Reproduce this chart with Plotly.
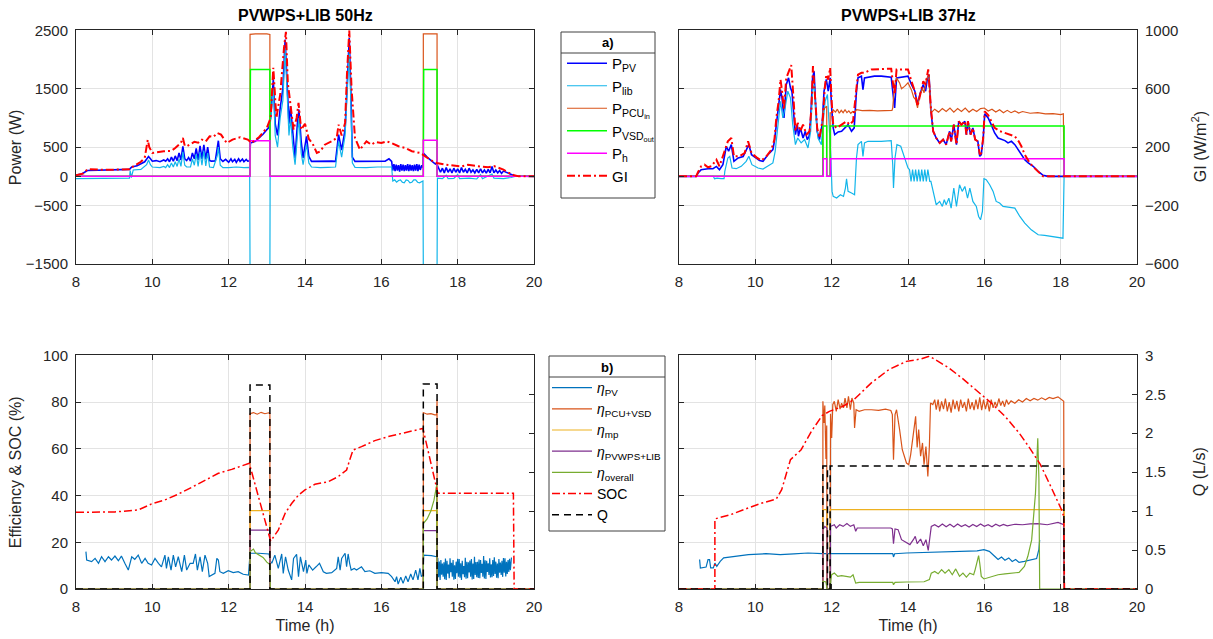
import plotly.graph_objects as go

# ================= DATA =================
# ---- Top-left: PVWPS+LIB 50Hz (power in W, GI in W/m2) ----
t_ppv50 = [8.00, 8.15, 8.30, 8.6, 8.9, 9.2, 9.4, 9.46, 9.6, 9.8, 9.9, 9.95, 10.0, 10.1, 10.2, 10.3, 10.35, 10.4, 10.45, 10.5,
           10.55, 10.6, 10.65, 10.7, 10.75, 10.8, 10.85, 10.9, 10.95, 11.0, 11.05, 11.1, 11.15, 11.2, 11.25, 11.3, 11.35,
           11.4, 11.45, 11.5, 11.55, 11.65, 11.7, 11.73, 11.78, 11.85, 11.92, 12.0, 12.06, 12.1, 12.16, 12.2, 12.26, 12.3,
           12.36, 12.4, 12.46, 12.5, 12.55, 12.57, 12.7, 12.8, 12.9, 13.0, 13.05, 13.1, 13.17, 13.22, 13.28, 13.35, 13.42,
           13.48, 13.53, 13.58, 13.62, 13.68, 13.74, 13.8, 13.84, 13.9, 13.95, 14.04, 14.1, 14.17, 14.3, 14.5, 14.7, 14.8,
           14.88, 14.96, 15.05, 15.1, 15.16, 15.2, 15.24, 15.31, 15.5, 15.7, 15.9, 16.1, 16.2, 16.27,
           16.30, 16.33, 16.36, 16.39, 16.42, 16.45, 16.48, 16.51, 16.54, 16.57, 16.60, 16.63, 16.66, 16.69, 16.72, 16.75,
           16.78, 16.81, 16.84, 16.87, 16.90, 16.93, 16.96, 16.99, 17.02, 17.06, 17.09, 17.10, 17.2, 17.3, 17.4, 17.46,
           17.5, 17.55, 17.6, 17.65, 17.7, 17.75, 17.8, 17.85, 17.9, 17.95, 18.0, 18.05, 18.1, 18.15, 18.2, 18.25, 18.3,
           18.35, 18.4, 18.45, 18.5, 18.55, 18.6, 18.65, 18.7, 18.75, 18.8, 18.85, 18.9, 18.95, 19.0, 19.05, 19.1, 19.15,
           19.2, 19.3, 19.4, 19.5, 20.0]
ppv50 = [20, 40, 100, 105, 110, 115, 120, 160, 180, 250, 340, 300, 260, 270, 250, 280, 260, 300, 250, 330,
         260, 350, 270, 400, 280, 515, 300, 270, 320, 260, 400, 300, 480, 280, 520, 300, 540,
         290, 500, 270, 260, 265, 450, 610, 300, 255, 290, 240, 300, 250, 290, 240, 300, 255,
         295, 250, 290, 260, 265, 570, 600, 660, 720, 800, 830, 1000, 1660, 900, 700, 1170, 1500,
         2340, 1500, 900, 1200, 700, 315, 900, 1143, 600, 315, 686, 343, 257, 260, 255, 260, 257,
         715, 450, 800, 1500, 2370, 1500, 330, 257, 260, 255, 262, 258, 300, 257,
         100, 210, 90, 200, 100, 190, 80, 210, 100, 200, 90, 190, 100, 210, 90, 200,
         100, 190, 90, 200, 100, 210, 90, 200, 110, 190, 150, 400, 330, 270, 220, 200,
         130, 70, 140, 60, 150, 70, 130, 60, 140, 70, 130, 60, 150, 70, 120, 60, 140,
         70, 110, 60, 120, 60, 130, 60, 110, 55, 120, 60, 170, 60, 110, 60, 100, 50,
         90, 60, 30, 5, 0]

t_plib50 = [8.0, 8.5, 9.0, 9.4, 9.42, 9.45, 9.5, 9.7, 9.85, 9.9, 9.95, 10.0, 10.2, 10.3, 10.35, 10.4, 10.45, 10.5, 10.55,
            10.6, 10.65, 10.7, 10.75, 10.8, 10.85, 10.9, 11.0, 11.05, 11.1, 11.15, 11.2, 11.25, 11.3, 11.35, 11.4, 11.45,
            11.5, 11.6, 11.7, 11.73, 11.78, 11.85, 12.0, 12.2, 12.4, 12.55, 12.56, 13.08, 13.09, 13.17, 13.22, 13.28,
            13.35, 13.42, 13.48, 13.53, 13.58, 13.62, 13.68, 13.74, 13.8, 13.84, 13.9, 13.95, 14.04, 14.1, 14.17, 14.4,
            14.6, 14.8, 14.88, 14.96, 15.05, 15.1, 15.16, 15.2, 15.24, 15.31, 15.6, 15.9, 16.2, 16.27, 16.3, 16.35, 16.4,
            16.45, 16.5, 16.55, 16.6, 16.65, 16.7, 16.75, 16.8, 16.85, 16.9, 16.95, 17.0, 17.09, 17.1, 17.46, 17.47,
            17.6, 17.7, 17.75, 17.9, 18.0, 18.05, 18.3, 18.5, 18.6, 18.65, 18.9, 18.95, 19.2, 19.4, 19.5, 20.0]
plib50 = [-40, -35, -30, -30, 100, -20, 110, 120, 200, 280, 200, 160, 150, 170, 150, 200, 150, 230, 160,
          250, 170, 300, 170, 420, 190, 160, 160, 300, 190, 380, 170, 420, 190, 440, 180, 400,
          160, 150, 350, 500, 190, 150, 150, 160, 150, 155, -1600, -1600, 900, 1500, 700, 500,
          1000, 1300, 2200, 1300, 700, 1000, 500, 200, 700, 1000, 400, 200, 550, 230, 160, 150,
          155, 160, 600, 330, 700, 1300, 2150, 1300, 230, 155, 150, 160, 155, 160, -80, -60, -100,
          -70, -60, -100, -110, -60, -70, -110, -100, -60, -60, -100, -110, -80, -1600, -1600, -30,
          -40, 20, -40, -35, 30, -40, -30, -45, 30, -40, 40, -30, -40, -20, 0, 0]

t_ppcu50 = [8.0, 12.56, 12.56, 12.7, 13.0, 13.08, 13.08, 17.10, 17.10, 17.46, 17.46, 20.0]
ppcu50 = [0, 0, 2430, 2440, 2440, 2430, 0, 0, 2440, 2440, 0, 0]
t_pvsd50 = [8.0, 12.56, 12.56, 12.57, 13.08, 13.08, 17.10, 17.10, 17.11, 17.46, 17.46, 20.0]
pvsd50 = [0, 0, 900, 1830, 1830, 0, 0, 800, 1830, 1830, 0, 0]
t_ph50 = [8.0, 12.56, 12.56, 13.08, 13.08, 17.10, 17.10, 17.46, 17.46, 20.0]
ph50 = [0, 0, 610, 610, 0, 0, 620, 620, 0, 0]

t_gi50 = [8.0, 8.2, 8.3, 8.6, 9.0, 9.4, 9.5, 9.7, 9.8, 9.88, 9.92, 10.0, 10.3, 10.5, 10.6, 10.75, 10.8, 10.85, 10.9,
          11.1, 11.2, 11.3, 11.4, 11.5, 11.6, 11.7, 11.8, 11.95, 12.1, 12.3, 12.5, 12.56, 12.6, 12.8, 13.0, 13.1, 13.17,
          13.25, 13.35, 13.45, 13.5, 13.55, 13.62, 13.7, 13.78, 13.83, 13.9, 14.0, 14.1, 14.2, 14.31, 14.4, 14.52, 14.7,
          14.83, 14.88, 14.96, 15.05, 15.1, 15.16, 15.22, 15.31, 15.44, 15.61, 15.74, 15.85, 16.0, 16.14, 16.27, 16.45,
          16.62, 16.8, 17.02, 17.08, 17.1, 17.2, 17.3, 17.45, 17.7, 18.1, 18.27, 18.5, 18.8, 18.95, 19.2, 19.35, 19.48,
          19.6, 20.0]
gi50 = [8, 20, 50, 46, 46, 48, 68, 100, 126, 250, 200, 160, 172, 175, 194, 230, 263, 210, 206,
        236, 230, 252, 240, 274, 270, 297, 286, 228, 252, 268, 252, 240, 228, 270, 332, 400, 744,
        400, 560, 880, 990, 640, 480, 320, 400, 503, 320, 360, 256, 224, 160, 172, 217, 240,
        263, 354, 280, 366, 700, 1000, 600, 263, 183, 240, 217, 235, 228, 240, 228, 206,
        195, 172, 160, 148, 150, 130, 110, 92, 80, 68, 80, 70, 62, 70, 46, 23, 7,
        0, 0]

# ---- Top-right: PVWPS+LIB 37Hz ----
t_ppv37 = [8.0, 8.45, 8.5, 8.58, 8.76, 8.89, 8.98, 9.06, 9.15, 9.24, 9.3, 9.37, 9.44, 9.55, 9.68, 9.76, 9.83, 9.9, 10.03,
           10.11, 10.2, 10.33, 10.46, 10.5, 10.55, 10.61, 10.66, 10.7, 10.75, 10.81, 10.87, 10.92, 10.96, 11.0, 11.05,
           11.1, 11.13, 11.18, 11.25, 11.31, 11.36, 11.41, 11.45, 11.5, 11.54, 11.57, 11.62, 11.68, 11.75, 11.8, 11.86,
           11.91, 11.96, 12.0, 12.04, 12.08, 12.17, 12.26, 12.34, 12.43, 12.52, 12.59, 12.65, 12.69, 12.78, 12.82, 12.86,
           12.95, 13.12, 13.3, 13.47, 13.56, 13.6, 13.65, 13.7, 13.83, 14.0, 14.09, 14.18, 14.25, 14.31, 14.4, 14.46,
           14.51, 14.55, 14.6, 14.66, 14.74, 14.83, 14.92, 15.0, 15.09, 15.13, 15.2, 15.27, 15.33, 15.4, 15.49, 15.53,
           15.57, 15.64, 15.7, 15.76, 15.83, 15.88, 15.92, 15.97, 16.01, 16.1, 16.18, 16.27, 16.36, 16.45, 16.54, 16.62,
           16.71, 16.8, 16.89, 16.97, 17.06, 17.15, 17.28, 17.41, 17.54, 17.67, 20.0]
ppv37 = [0, 0, 57, 114, 131, 131, 170, 114, 200, 515, 430, 543, 257, 315, 340, 457, 543, 370, 315,
         270, 257, 370, 457, 600, 886, 1170, 1486, 1340, 1000, 1570, 1686, 1515, 1450, 1115, 715,
         886, 686, 830, 657, 770, 629, 686, 1000, 1686, 1800, 1343, 772, 629, 886, 1458, 1658,
         1458, 1686, 1170, 830, 715, 760, 772, 830, 886, 772, 830, 1458, 1686, 1715, 1486, 1686,
         1698, 1715, 1715, 1703, 1698, 1458, 1170, 1686, 1698, 1715, 1572, 1458, 1229, 1400, 1572, 1458,
         1686, 1743, 1115, 772, 657, 572, 629, 543, 772, 600, 886, 543, 943, 886, 943, 715,
         943, 715, 829, 629, 600, 343, 372, 657, 1070, 1000, 886, 743, 657, 629, 612, 572,
         600, 543, 457, 372, 286, 229, 172, 86, 17, 0, 0]

t_plib37 = [8.0, 8.9, 8.93, 9.0, 9.1, 9.18, 9.2, 9.28, 9.33, 9.39, 9.5, 9.63, 9.76, 9.83, 9.91, 10.07, 10.2, 10.33, 10.46,
            10.52, 10.6, 10.66, 10.72, 10.78, 10.85, 10.92, 10.98, 11.05, 11.11, 11.2, 11.29, 11.38, 11.45, 11.5, 11.54,
            11.59, 11.64, 11.73, 11.77, 11.83, 11.89, 11.93, 11.98, 12.01, 12.04, 12.13, 12.23, 12.31, 12.36, 12.39,
            12.43, 12.52, 12.6, 12.65, 12.69, 12.78, 12.82, 12.86, 12.95, 13.3, 13.56, 13.6, 13.62, 13.66, 13.71, 13.81,
            13.91, 14.0, 14.04, 14.08, 14.12, 14.16, 14.2, 14.24, 14.28, 14.32, 14.36, 14.4, 14.44, 14.48, 14.52, 14.57,
            14.6, 14.66, 14.74, 14.83, 14.9, 14.95, 15.0, 15.07, 15.13, 15.2, 15.27, 15.35, 15.42, 15.49, 15.56, 15.62,
            15.7, 15.79, 15.85, 15.9, 15.95, 15.99, 16.05, 16.14, 16.23, 16.31, 16.4, 16.49, 16.62, 16.8, 16.93, 17.06,
            17.23, 17.41, 17.58, 17.76, 17.93, 18.06, 18.09, 20.0]
plib37 = [0, 0, -40, -30, -40, -40, 86, 315, 343, 143, 131, 172, 257, 343, 200, 143, 126, 172, 229,
          429, 886, 1286, 1000, 1172, 1458, 1343, 886, 543, 657, 572, 629, 486, 772, 1458, 1572,
          1000, 657, 543, 886, 1286, 1400, 943, 315, -257, -343, -371, -314, -343, -200, -40,
          -257, -286, -314, 315, 543, 600, 343, 572, 600, 600, 612, 200, -200, 315, 543, 515,
          315, 143, 114, -86, 114, -86, 114, -86, 114, -86, 114, -86, 114, -86, 114, -86,
          -86, -257, -486, -429, -515, -400, -486, -372, -543, -200, -515, -143, -257, -172, -372, -200,
          -429, -515, -686, -743, -600, -40, -57, -143, -257, -429, -457, -515, -530, -543, -686, -800,
          -915, -1000, -1010, -1029, -1040, -1058, 0, 0]

t_ppcu37 = [8.0, 11.77, 11.77, 11.82, 11.87, 11.87, 11.96, 11.96, 12.0, 12.04, 12.1, 12.15, 12.2, 12.25, 12.3, 12.35,
            12.4, 12.45, 12.5, 12.55, 12.6, 12.65, 12.8, 13.0, 13.2, 13.4, 13.58, 13.6, 13.65, 13.7, 13.78, 13.83, 13.91,
            14.0, 14.09, 14.15, 14.2, 14.25, 14.31, 14.38, 14.42, 14.48, 14.55, 14.6, 14.7, 14.8, 14.9, 15.0, 15.1, 15.2,
            15.3, 15.4, 15.5, 15.6, 15.7, 15.8, 15.9, 16.0, 16.1, 16.2, 16.3, 16.4, 16.5, 16.6, 16.7, 16.8, 16.9, 17.0,
            17.2, 17.4, 17.6, 17.8, 18.0, 18.07, 18.09, 20.0]
ppcu37 = [0, 0, 1115, 1172, 1200, 0, 0, 1086, 1086, 1140, 1100, 1150, 1080, 1130, 1090, 1140,
          1090, 1120, 1080, 1110, 1090, 1143, 1126, 1130, 1120, 1126, 1130, 1170, 1572, 1686, 1600, 1500, 1540,
          1601, 1480, 1350, 1315, 1172, 1400, 1500, 1430, 1650, 1743, 1086, 1150, 1100, 1160, 1110, 1170, 1100,
          1160, 1110, 1170, 1100, 1150, 1110, 1160, 1170, 1120, 1150, 1100, 1140, 1090, 1130, 1090, 1120, 1085, 1110,
          1080, 1090, 1070, 1075, 1058, 1070, 0, 0]
t_pvsd37 = [8.0, 11.77, 11.77, 11.87, 11.87, 11.96, 11.96, 18.09, 18.09, 20.0]
pvsd37 = [0, 0, 860, 860, 0, 0, 860, 860, 0, 0]
t_ph37 = [8.0, 11.78, 11.78, 11.87, 11.87, 11.97, 11.97, 18.09, 18.09, 20.0]
ph37 = [0, 0, 300, 300, 0, 0, 300, 300, 0, 0]

t_gi37 = [8.0, 8.45, 8.5, 8.58, 8.67, 8.76, 8.85, 8.98, 9.06, 9.2, 9.28, 9.37, 9.44, 9.59, 9.72, 9.81, 9.9, 10.03, 10.16,
          10.29, 10.42, 10.5, 10.55, 10.61, 10.66, 10.7, 10.75, 10.81, 10.87, 10.94, 11.0, 11.05, 11.11, 11.18, 11.25,
          11.34, 11.42, 11.47, 11.51, 11.56, 11.62, 11.68, 11.77, 11.82, 11.86, 11.91, 11.96, 12.0, 12.04, 12.13, 12.26,
          12.39, 12.47, 12.56, 12.65, 12.69, 12.78, 12.86, 13.04, 13.3, 13.56, 13.6, 13.65, 13.7, 13.91, 14.0, 14.09,
          14.18, 14.25, 14.35, 14.4, 14.46, 14.53, 14.6, 14.63, 14.66, 14.74, 14.83, 14.92, 15.0, 15.09, 15.13, 15.2,
          15.27, 15.33, 15.4, 15.49, 15.53, 15.57, 15.64, 15.7, 15.76, 15.83, 15.88, 15.92, 15.97, 16.01, 16.1, 16.18,
          16.27, 16.4, 16.54, 16.65, 16.8, 16.9, 16.97, 17.06, 17.19, 17.3, 17.41, 17.54, 20.0]
gi37 = [0, 0, 30, 69, 80, 62, 69, 114, 69, 172, 240, 263, 137, 138, 160, 240, 160, 130, 108,
        137, 183, 252, 400, 514, 663, 583, 457, 673, 720, 762, 537, 309, 366, 309, 354,
        286, 309, 469, 755, 583, 331, 263, 400, 606, 697, 663, 743, 514, 354, 331, 354,
        377, 354, 377, 606, 697, 709, 709, 732, 732, 737, 651, 560, 732, 732, 732, 651,
        583, 480, 583, 651, 629, 732, 469, 354, 309, 263, 229, 252, 217, 309, 240, 354,
        217, 377, 354, 377, 286, 377, 286, 331, 252, 240, 150, 160, 263, 445, 420, 380,
        332, 310, 297, 290, 274, 240, 206, 149, 91, 60, 34, 0, 0]

# ---- Bottom-left: efficiencies & SOC (%), Q (L/s), 50Hz ----
t_epv50 = [8.26, 8.28, 8.41, 8.5, 8.59, 8.67, 8.76, 8.85, 8.93, 9.02, 9.11, 9.19, 9.28, 9.37, 9.46, 9.54, 9.63, 9.72,
           9.81, 9.89, 9.98, 10.07, 10.16, 10.24, 10.33, 10.37, 10.42, 10.49, 10.55, 10.61, 10.68, 10.77, 10.84, 10.9,
           10.99, 11.07, 11.13, 11.18, 11.25, 11.31, 11.38, 11.45, 11.49, 11.55, 11.64, 11.69, 11.73, 11.77, 11.86,
           11.99, 12.12, 12.25, 12.38, 12.52, 12.56, 12.78, 13.06, 13.09, 13.13, 13.21, 13.3, 13.39, 13.43, 13.49, 13.56,
           13.65, 13.7, 13.78, 13.83, 13.88, 13.96, 14.02, 14.05, 14.1, 14.2, 14.29, 14.38, 14.48, 14.56, 14.7, 14.83,
           14.87, 14.92, 14.96, 15.05, 15.09, 15.13, 15.17, 15.21, 15.29, 15.35, 15.48, 15.57, 15.7, 15.83, 16.0, 16.18,
           16.27, 16.36, 16.4, 16.44, 16.51, 16.57, 16.64, 16.7, 16.77, 16.83, 16.9, 16.96, 17.01, 17.05, 17.09, 17.11,
           17.31, 17.45, 17.48, 17.5, 17.52, 17.54, 17.56, 17.58, 17.6, 17.62, 17.64, 17.66, 17.68, 17.7, 17.72, 17.74,
           17.76, 17.78, 17.8, 17.82, 17.84, 17.86, 17.88, 17.9, 17.92, 17.94, 17.96, 17.98, 18.0, 18.02, 18.04, 18.06,
           18.08, 18.1, 18.12, 18.14, 18.16, 18.18, 18.2, 18.22, 18.24, 18.26, 18.28, 18.3, 18.32, 18.34, 18.36, 18.38,
           18.4, 18.42, 18.44, 18.46, 18.48, 18.5, 18.52, 18.54, 18.56, 18.58, 18.6, 18.62, 18.64, 18.66, 18.68, 18.7,
           18.72, 18.74, 18.76, 18.78, 18.8, 18.82, 18.84, 18.86, 18.88, 18.9, 18.92, 18.94, 18.96, 18.98, 19.0, 19.02,
           19.04, 19.06, 19.08, 19.1, 19.12, 19.14, 19.16, 19.18, 19.2, 19.22, 19.24, 19.26, 19.28, 19.3, 19.32, 19.34,
           19.36, 19.38, 19.41]
epv50 = [16, 12.4, 11.7, 13.1, 11, 13.8, 11.7, 13.8, 12.4, 14.1, 12.1, 14.1, 11, 8.1, 13.8, 12.7, 14.5, 11,
         13.1, 11, 10.3, 13.1, 11, 9.5, 14.5, 8.8, 13.8, 8.1, 14.5, 9.5, 13.8, 7.4, 14.5, 8.1,
         11, 11, 15, 8.1, 13.8, 7.4, 14.5, 11, 5.3, 6, 6.7, 13.1, 12.4, 7.4, 6.7,
         7.8, 7, 7.4, 6.3, 6, 15.3, 15.3, 15, 12, 11, 14.5, 8.8, 15, 6.7, 13.8, 8.1,
         3.9, 13.1, 14.8, 5.3, 13.8, 7.4, 12.4, 6.7, 10.3, 8.1, 9.5, 11, 7.4, 6.7, 7, 8.8,
         13.8, 8.1, 13.1, 15.3, 9.5, 15, 11, 8.1, 8.8, 8.1, 9.5, 7.4, 7.8, 6.7, 7, 6.7,
         5.3, 3.1, 5.3, 2.1, 5, 2.4, 5.6, 3.1, 6.4, 3.9, 8.1, 3.9, 8.8, 5.3, 6, 14.5,
         14.3, 13.8, 13.1, 5.0, 11.8, 3.9, 12.4, 6.1, 10.9, 5.3, 11.4, 4.2, 13.0, 3.9, 12.1, 6.6,
         10.5, 4.6, 13.1, 7.2, 11.2, 5.3, 12.4, 4.0, 10.2, 4.3, 11.7, 6.8, 12.9, 5.3, 12.8, 4.8,
         11.0, 3.9, 12.1, 6.3, 9.8, 5.0, 13.4, 4.4, 11.6, 4.6, 11.4, 7.1, 12.2, 5.3, 12.8, 4.1,
         10.9, 4.3, 13.8, 6.0, 11.5, 5.0, 11.7, 4.7, 12.6, 4.6, 12.4, 6.9, 10.8, 5.3, 14.1, 4.5,
         12.3, 4.3, 12.1, 7.3, 11.0, 6.0, 13.1, 4.9, 10.6, 5.0, 12.4, 5.6, 13.6, 6.4, 11.7, 4.8,
         10.9, 4.6, 12.8, 7.0, 11.3, 6.0, 12.1, 5.2, 13.3, 7.0, 13.1, 5.4, 11.6, 6.4, 12.4, 7.3,
         12.9, 8.0, 13.5]

t_epcu50 = [8.0, 12.56, 12.56, 12.65, 12.75, 12.85, 12.95, 13.05, 13.08, 13.08, 17.10, 17.10, 17.2, 17.3, 17.4, 17.45,
            17.46, 17.46, 20.0]
epcu50 = [0, 0, 75, 75.5, 74.8, 75.6, 75, 75.4, 75, 0, 0, 75.5, 74.8, 75, 74.5, 74.6, 81, 0, 0]
t_emp50 = [8.0, 12.56, 12.56, 13.08, 13.08, 17.10, 17.10, 17.46, 17.46, 20.0]
emp50 = [0, 0, 33.5, 33.5, 0, 0, 33.5, 33.5, 0, 0]
t_esys50 = [8.0, 12.56, 12.56, 13.08, 13.08, 17.10, 17.10, 17.46, 17.46, 20.0]
esys50 = [0, 0, 25.2, 25.2, 0, 0, 25.0, 25.0, 0, 0]
t_eov50 = [8.0, 12.56, 12.56, 12.65, 12.7, 12.8, 12.9, 13.0, 13.05, 13.08, 13.09, 17.10, 17.10, 17.2, 17.3, 17.38,
           17.45, 17.46, 20.0]
eov50 = [0, 0, 16, 17.1, 15.5, 14.5, 13.5, 11.5, 11, 10.5, 0, 0, 28, 30, 33.5, 38, 44.5, 0, 0]
t_soc50 = [8.0, 9.02, 9.63, 9.98, 10.33, 10.68, 11.03, 11.38, 11.73, 12.08, 12.34, 12.54, 13.1, 13.3, 13.48, 13.65,
           13.83, 14.0, 14.26, 14.61, 14.87, 15.09, 15.17, 15.26, 15.48, 15.83, 16.18, 16.53, 16.88, 17.09, 17.46,
           17.48, 19.46, 19.48, 20.0]
soc50 = [32.8, 33, 33.8, 36.4, 38.1, 40.6, 43.5, 46.6, 49.5, 51.2, 52.6, 53.8, 20.5, 25.2, 32.4, 36.6,
         40.2, 42.4, 44.8, 45.9, 48.1, 50.9, 55.2, 59.5, 60.9, 63.5, 65.2, 66.6, 68, 68.7, 42.4,
         41, 41, 0, 0]
t_q50 = [8.0, 12.56, 12.56, 13.08, 13.08, 17.10, 17.10, 17.46, 17.46, 20.0]
q50 = [0, 0, 2.62, 2.62, 0, 0, 2.63, 2.63, 0, 0]

# ---- Bottom-right: 37Hz ----
t_epv37 = [8.54, 8.56, 8.71, 8.76, 8.8, 8.83, 8.9, 8.94, 8.99, 9.08, 9.17, 9.35, 9.54, 9.82, 10.28, 10.65, 11.01, 11.38,
           11.75, 12.12, 12.67, 13.04, 13.6, 13.62, 13.65, 13.96, 14.42, 14.88, 15.35, 15.81, 15.99, 16.13, 16.27, 16.36,
           16.45, 16.54, 16.64, 16.73, 16.82, 16.91, 17.05, 17.19, 17.37, 17.43, 17.45]
epv37 = [12.6, 9, 9.4, 12.6, 12.6, 9, 9, 11.1, 9.7, 11.8, 13.3, 13.7, 14.3, 14.7, 15.1, 14.7, 15, 15.4,
         15.1, 15.1, 15.1, 15.4, 15.1, 13.7, 15.1, 15.4, 15.7, 15.8, 16.0, 16.3, 16.8, 16.1, 14.0, 12.6,
         13.7, 12.3, 13.3, 11.8, 12.6, 11.4, 11.8, 12.3, 13, 17, 21]

t_epcu37 = [8.0, 11.77, 11.77, 11.8, 11.82, 11.85, 11.87, 11.88, 11.96, 11.97, 12.0, 12.03, 12.07, 12.12, 12.17, 12.22,
            12.26, 12.31, 12.35, 12.4, 12.44, 12.49, 12.53, 12.58, 12.6, 12.64, 12.72, 12.86, 13.04, 13.23, 13.41, 13.55,
            13.59, 13.62, 13.66, 13.7, 13.78, 13.85, 13.96, 14.02, 14.07, 14.12, 14.17, 14.2, 14.24, 14.28, 14.33, 14.38,
            14.42, 14.47, 14.52, 14.56, 14.59, 14.65, 14.7, 14.74, 14.79, 14.83, 14.88, 14.93, 14.98, 15.03, 15.08,
            15.13, 15.18, 15.23, 15.28, 15.33, 15.38, 15.43, 15.48, 15.53, 15.58, 15.63, 15.68, 15.73, 15.78, 15.83,
            15.88, 15.93, 15.98, 16.03, 16.08, 16.13, 16.18, 16.23, 16.28, 16.33, 16.38, 16.43, 16.48, 16.53, 16.58,
            16.63, 16.7, 16.8, 16.9, 17.0, 17.1, 17.2, 17.3, 17.4, 17.5, 17.6, 17.7, 17.8, 17.93, 18.04, 18.08, 18.09,
            20.0]
epcu37 = [0, 0, 80.3, 71, 78.5, 55.6, 70, 0, 0, 75, 64.6, 79, 80.3, 76, 81, 77,
          79.5, 77.5, 81.7, 77.5, 82.4, 76.7, 81.7, 79.5, 68.9, 76.7, 76, 76.7, 76.7, 76.4, 77, 76.4,
          74.6, 55.3, 74.6, 76.7, 68.2, 59.6, 53.9, 53.2, 57.5, 64, 69.6, 73.9, 60.6, 68.2, 56.8, 62.5,
          53.2, 61, 48.2, 61, 79.6, 78.9, 81, 76.7, 81, 76, 80.3, 77, 81.5, 76, 80,
          75.5, 81, 77, 80.5, 76, 81, 77.5, 80, 76, 81.5, 77, 80, 76.5, 81, 77,
          82, 76.5, 81, 77, 80.5, 76, 81, 77.5, 80, 78, 81.5, 78.5, 80.5, 78, 81,
          79, 80.5, 79.5, 81, 80, 81.5, 80.5, 81.5, 80.8, 81.8, 81, 82, 81.5, 82.2, 81, 80.3, 0,
          0]
t_emp37 = [8.0, 11.77, 11.77, 11.88, 11.88, 11.96, 11.96, 18.09, 18.09, 20.0]
emp37 = [0, 0, 34, 34, 0, 0, 34, 34, 0, 0]
t_esys37 = [8.0, 11.77, 11.77, 11.82, 11.88, 11.88, 11.96, 11.97, 12.07, 12.12, 12.21, 12.3, 12.4, 12.49, 12.58, 12.63,
            12.67, 12.86, 13.23, 13.55, 13.59, 13.62, 13.66, 13.74, 13.83, 13.96, 14.05, 14.14, 14.19, 14.24, 14.33,
            14.4, 14.47, 14.53, 14.57, 14.61, 14.7, 14.8, 14.9, 15.0, 15.1, 15.2, 15.3, 15.4, 15.5, 15.6, 15.7, 15.8,
            15.9, 16.0, 16.1, 16.2, 16.3, 16.4, 16.5, 16.6, 16.8, 17.0, 17.2, 17.4, 17.65, 17.93, 18.08, 18.09, 20.0]
esys37 = [0, 0, 25.4, 26.8, 26, 0, 0, 26.8, 27.5, 26.1, 27.5, 26.8, 28, 26.8, 27.5, 24.7,
          26.1, 26.1, 26.1, 26.1, 25.7, 19.4, 25.7, 25.4, 21.1, 19.7, 19, 21.1, 22.5, 19.4, 21.4,
          18.5, 21.1, 16.5, 21.1, 26.8, 27.5, 26.5, 27.8, 26.6, 27.7, 26.5, 27.8, 26.7, 27.5, 26.5, 27.6, 26.7,
          27.8, 26.8, 27.5, 26.6, 27.7, 26.9, 27.6, 27, 27.7, 27.5, 27.9, 28, 27.5, 28.5, 27.5, 0, 0]
t_eov37 = [8.0, 11.77, 11.77, 11.85, 11.88, 11.96, 11.98, 12.0, 12.07, 12.16, 12.26, 12.4, 12.49, 12.56, 12.63, 12.72,
           13.04, 13.5, 13.6, 13.62, 13.66, 13.96, 14.42, 14.56, 14.61, 14.7, 14.79, 14.88, 14.97, 15.07, 15.16, 15.25,
           15.35, 15.44, 15.53, 15.62, 15.72, 15.76, 15.81, 15.85, 15.88, 15.92, 15.99, 16.18, 16.36, 16.54, 16.73,
           16.91, 17.05, 17.14, 17.24, 17.3, 17.34, 17.37, 17.4, 17.43, 17.45, 20.0]
eov37 = [0, 0, 3.3, 3, 0, 0, 4, 6.1, 6.8, 5.4, 5.7, 5.4, 5.1, 6.1, 2.5, 2.85,
         2.85, 3.0, 2.85, 1.8, 2.85, 3.0, 3.1, 4, 6.8, 7.5, 6.5, 8.3, 6.8, 8.3, 6.1, 8.6,
         5.4, 6.8, 5.1, 6.8, 6.1, 8.3, 11.8, 14.3, 11, 5.4, 4.3, 5.1, 6.1, 6.5, 6.8,
         7.1, 9.7, 14, 21, 32.5, 41, 52.5, 64.5, 47, 0, 0]
t_soc37 = [8.0, 8.94, 8.94, 9.35, 9.82, 10.18, 10.55, 10.69, 10.92, 11.2, 11.47, 11.75, 11.94, 12.3, 12.58, 13.04,
           13.5, 13.96, 14.33, 14.56, 14.7, 15.07, 15.44, 15.81, 16.18, 16.54, 16.91, 17.19, 17.47, 17.74, 18.02,
           18.08, 18.1, 20.0]
soc37 = [0, 0, 30, 31.8, 34.7, 36.8, 38.5, 42.5, 55.3, 59.6, 67.5, 74.2, 76, 78.2, 81, 88.2,
         93.9, 97.4, 98.4, 99.6, 98.3, 94.6, 89.9, 84.6, 79.6, 73.9, 66.8, 60.3, 53.2, 43.9, 34,
         31.1, 0, 0]
t_q37 = [8.0, 11.77, 11.77, 11.89, 11.89, 11.96, 11.96, 18.08, 18.09, 20.0]
q37 = [0, 0, 1.58, 1.58, 0, 0, 1.58, 1.58, 0, 0]

x_ticks = [8, 10, 12, 14, 16, 18, 20]
p_ticks = [-1500, -500, 0, 500, 1500, 2500]
gi_ticks = [-600, -200, 200, 600, 1000]
eff_ticks = [0, 20, 40, 60, 80, 100]
q_ticks = [0, 0.5, 1, 1.5, 2, 2.5, 3]

# ================= STYLE / LAYOUT =================
W, H = 1213, 639
def px(x):
    return x / W
def py(y):
    return 1 - y / H

XL = [px(76), px(534)]
XR = [px(679), px(1137)]
YT = [py(264), py(30.3)]
YB = [py(589), py(355.3)]

FONT = "Liberation Sans, Arial, sans-serif"
TXT = "#262626"
C = dict(ppv="#0000FF", plib="#12B5EA", ppcu="#D95319", pvsd="#00FF00", ph="#FF00FF", gi="#FF0000",
         epv="#0072BD", epcu="#D95319", emp="#EDB120", esys="#7E2F8E", eov="#77AC30", soc="#FF0000", q="#000000")
DASHDOT = "8px,3px,2px,3px"
DASH = "7px,5px"

fig = go.Figure()

def add(x, y, xa, ya, name, color, width, dash=None, legend="legend", show=False):
    fig.add_trace(go.Scatter(x=x, y=y, xaxis=xa, yaxis=ya, mode="lines", name=name,
                             line=dict(color=color, width=width, dash=dash),
                             showlegend=show, legend=legend, hoverinfo="skip"))

# Top panels
for (xa, ya, yg, data, show) in [
    ("x", "y", "y5", (t_ppv50, ppv50, t_plib50, plib50, t_ppcu50, ppcu50, t_pvsd50, pvsd50, t_ph50, ph50, t_gi50, gi50), True),
    ("x2", "y2", "y6", (t_ppv37, ppv37, t_plib37, plib37, t_ppcu37, ppcu37, t_pvsd37, pvsd37, t_ph37, ph37, t_gi37, gi37), False),
]:
    a = data
    add(a[0], a[1], xa, ya, "P<sub>PV</sub>", C["ppv"], 1.6, show=show)
    add(a[2], a[3], xa, ya, "P<sub>lib</sub>", C["plib"], 1.2, show=show)
    add(a[4], a[5], xa, ya, "P<sub>PCU<sub>in</sub></sub>", C["ppcu"], 1.2, show=show)
    add(a[6], a[7], xa, ya, "P<sub>VSD<sub>out</sub></sub>", C["pvsd"], 1.5, show=show)
    add(a[8], a[9], xa, ya, "P<sub>h</sub>", C["ph"], 1.5, show=show)
    add(a[10], a[11], xa, yg, "GI", C["gi"], 2, dash=DASHDOT, show=show)

# Bottom panels
for (xa, ya, yq, data, show) in [
    ("x3", "y3", "y7", (t_epv50, epv50, t_epcu50, epcu50, t_emp50, emp50, t_esys50, esys50, t_eov50, eov50, t_soc50, soc50, t_q50, q50), True),
    ("x4", "y4", "y8", (t_epv37, epv37, t_epcu37, epcu37, t_emp37, emp37, t_esys37, esys37, t_eov37, eov37, t_soc37, soc37, t_q37, q37), False),
]:
    a = data
    add(a[0], a[1], xa, ya, "<i>η</i><sub>PV</sub>", C["epv"], 1.2, legend="legend2", show=show)
    add(a[2], a[3], xa, ya, "<i>η</i><sub>PCU+VSD</sub>", C["epcu"], 1.2, legend="legend2", show=show)
    add(a[4], a[5], xa, ya, "<i>η</i><sub>mp</sub>", C["emp"], 1.2, legend="legend2", show=show)
    add(a[6], a[7], xa, ya, "<i>η</i><sub>PVWPS+LIB</sub>", C["esys"], 1.2, legend="legend2", show=show)
    add(a[8], a[9], xa, ya, "<i>η</i><sub>overall</sub>", C["eov"], 1.2, legend="legend2", show=show)
    add(a[10], a[11], xa, ya, "SOC", C["soc"], 1.5, dash=DASHDOT, legend="legend2", show=show)
    add(a[12], a[13], xa, yq, "Q", C["q"], 1.5, dash=DASH, legend="legend2", show=show)

tickfont = dict(family=FONT, size=15, color=TXT)
titlefont = dict(family=FONT, size=16, color=TXT)
base = dict(showline=True, linecolor=TXT, linewidth=1, ticks="inside", ticklen=5, tickcolor=TXT,
            tickfont=tickfont, zeroline=False, automargin=False, ticklabelstandoff=4)

def xax(domain, anchor, title=None):
    d = dict(base, domain=domain, anchor=anchor, range=[8, 20], tickvals=x_ticks, mirror="ticks",
             showgrid=True, gridcolor="#E3E3E3", gridwidth=1)
    if title:
        d["title"] = dict(text=title, font=titlefont, standoff=5)
    return d

def ytitle(text, x, y_mid):
    return dict(text=text, x=x, y=y_mid, xref="paper", yref="paper", showarrow=False, textangle=-90,
                font=titlefont, xanchor="center", yanchor="middle")

layout = dict(
    width=W, height=H, margin=dict(l=0, r=0, t=0, b=0),
    paper_bgcolor="white", plot_bgcolor="white",
    xaxis=xax(XL, "y"),
    xaxis2=xax(XR, "y2"),
    xaxis3=xax(XL, "y3", "Time (h)"),
    xaxis4=xax(XR, "y4", "Time (h)"),
    yaxis=dict(base, domain=YT, anchor="x", range=[-1500, 2500], tickvals=p_ticks, mirror="ticks",
               showgrid=True, gridcolor="#E3E3E3"),
    yaxis2=dict(base, domain=YT, anchor="x2", range=[-1500, 2500], tickvals=p_ticks, mirror=True,
                showticklabels=False, showgrid=True, gridcolor="#E3E3E3"),
    yaxis5=dict(overlaying="y", anchor="x", side="right", range=[-600, 1000], visible=False),
    yaxis6=dict(base, overlaying="y2", anchor="x2", side="right", range=[-600, 1000], tickvals=gi_ticks,
                showgrid=False),
    yaxis3=dict(base, domain=YB, anchor="x3", range=[0, 100], tickvals=eff_ticks, mirror=True,
                showgrid=True, gridcolor="#E3E3E3"),
    yaxis4=dict(base, domain=YB, anchor="x4", range=[0, 100], tickvals=eff_ticks, mirror=True,
                showticklabels=False, showgrid=True, gridcolor="#E3E3E3"),
    yaxis7=dict(base, overlaying="y3", anchor="x3", side="right", range=[0, 3], tickvals=q_ticks,
                showticklabels=False, showgrid=False),
    yaxis8=dict(base, overlaying="y4", anchor="x4", side="right", range=[0, 3], tickvals=q_ticks,
                showgrid=False),
    legend=dict(x=px(562), y=py(47), xanchor="left", yanchor="top", bgcolor="rgba(0,0,0,0)",
                borderwidth=0, font=dict(family=FONT, size=15, color="#000"), itemwidth=40,
                tracegroupgap=0, traceorder="normal"),
    legend2=dict(x=px(547), y=py(372), xanchor="left", yanchor="top", bgcolor="rgba(0,0,0,0)",
                 borderwidth=0, font=dict(family=FONT, size=14, color="#000"), itemwidth=40,
                 tracegroupgap=0, traceorder="normal"),
    showlegend=True,
    shapes=[
        dict(type="rect", xref="paper", yref="paper", x0=px(561), x1=px(655), y0=py(198), y1=py(32),
             line=dict(color="#404040", width=1), fillcolor="rgba(0,0,0,0)"),
        dict(type="line", xref="paper", yref="paper", x0=px(561), x1=px(655), y0=py(53), y1=py(53),
             line=dict(color="#404040", width=1)),
        dict(type="rect", xref="paper", yref="paper", x0=px(549), x1=px(665), y0=py(531), y1=py(356),
             line=dict(color="#404040", width=1), fillcolor="rgba(0,0,0,0)"),
        dict(type="line", xref="paper", yref="paper", x0=px(549), x1=px(665), y0=py(377), y1=py(377),
             line=dict(color="#404040", width=1)),
    ],
    annotations=[
        dict(text="<b>PVWPS+LIB 50Hz</b>", x=(XL[0] + XL[1]) / 2, y=py(15), xref="paper", yref="paper",
             showarrow=False, font=dict(family=FONT, size=16, color="#000"), xanchor="center", yanchor="middle"),
        dict(text="<b>PVWPS+LIB 37Hz</b>", x=(XR[0] + XR[1]) / 2, y=py(15), xref="paper", yref="paper",
             showarrow=False, font=dict(family=FONT, size=16, color="#000"), xanchor="center", yanchor="middle"),
        dict(text="<b>a)</b>", x=px(608), y=py(43), xref="paper", yref="paper", showarrow=False,
             font=dict(family=FONT, size=13, color="#000"), xanchor="center", yanchor="middle"),
        dict(text="<b>b)</b>", x=px(607), y=py(367), xref="paper", yref="paper", showarrow=False,
             font=dict(family=FONT, size=13, color="#000"), xanchor="center", yanchor="middle"),
        ytitle("Power (W)", px(15), (YT[0] + YT[1]) / 2),
        ytitle("GI (W/m<sup>2</sup>)", px(1199), (YT[0] + YT[1]) / 2),
        ytitle("Efficiency & SOC (%)", px(15), (YB[0] + YB[1]) / 2),
        ytitle("Q (L/s)", px(1199), (YB[0] + YB[1]) / 2),
    ],
)
fig.update_layout(**layout)
fig.write_html("out.html")
